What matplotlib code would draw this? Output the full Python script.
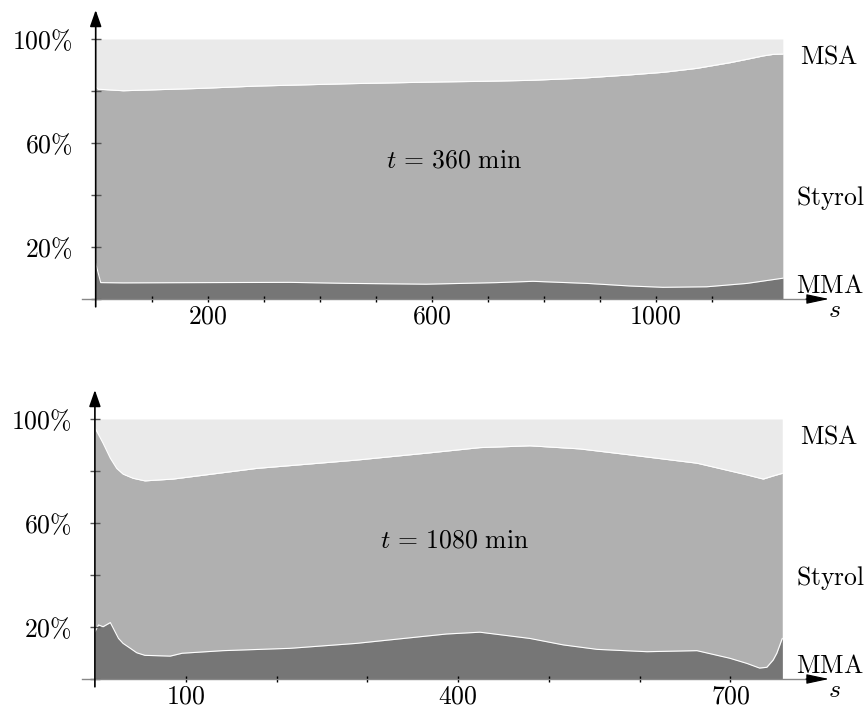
import matplotlib
matplotlib.use('Agg')
import matplotlib.pyplot as plt

plt.rcParams['mathtext.fontset'] = 'cm'
plt.rcParams['font.family'] = 'serif'

# t = 360 min: boundary MMA/Styrol and Styrol/MSA (cumulative %)
s360_top = [0, 4, 49, 186, 287, 450, 615, 686, 776, 865, 954, 1014, 1073,
            1133, 1163, 1192, 1210, 1227]
top360 = [81.6, 80.7, 80.1, 81.0, 81.9, 82.8, 83.5, 83.7, 84.1, 84.9, 86.2,
          87.2, 88.7, 90.9, 92.2, 93.5, 94.1, 94.2]
s360_mma = [0, 9, 49, 186, 347, 454, 590, 716, 781, 877, 954, 1013, 1091,
            1163, 1227]
mma360 = [13.7, 6.3, 6.2, 6.3, 6.4, 6.0, 5.7, 6.3, 6.8, 6.0, 5.0, 4.5, 4.7,
          6.0, 8.0]

# t = 1080 min
s1080_top = [0, 9, 17, 24, 31, 42, 55, 68, 86, 178, 288, 369, 424, 479, 534,
             589, 663, 718, 736, 747, 757]
top1080 = [96.6, 90.7, 84.9, 81.0, 78.8, 77.2, 76.2, 76.5, 76.9, 81.0, 84.2,
           87.0, 89.0, 89.7, 88.5, 86.2, 83.0, 78.5, 76.9, 78.1, 79.1]
s1080_mma = [0, 4, 9, 17, 26, 31, 39, 46, 55, 83, 96, 141, 215, 288, 387,
             424, 479, 516, 553, 608, 663, 699, 718, 732, 740, 747, 751, 757]
mma1080 = [18.2, 20.8, 20.1, 21.7, 15.6, 13.7, 11.8, 10.1, 9.1, 8.8, 9.9,
           10.9, 11.8, 13.7, 17.3, 18.0, 15.6, 13.1, 11.4, 10.5, 10.9, 8.0,
           6.0, 4.2, 4.5, 7.3, 9.9, 15.6]

yticks = [0, 20, 40, 60, 80, 100]
ylabels = ['', r'$20\%$', '', r'$60\%$', '', r'$100\%$']

panels = [
    dict(s_top=s360_top, top=top360, s_mma=s360_mma, mma=mma360,
         title=r'$t\,=\,360\ \mathrm{min}$',
         xticks=list(range(100, 1200, 100)), xlabeled=[200, 600, 1000],
         px0=95.7, pxunit=0.56, ybase=299),
    dict(s_top=s1080_top, top=top1080, s_mma=s1080_mma, mma=mma1080,
         title=r'$t\,=\,1080\ \mathrm{min}$',
         xticks=list(range(100, 800, 100)), xlabeled=[100, 400, 700],
         px0=94.9, pxunit=0.908, ybase=679),
]

W, H = 865, 705
fig = plt.figure(figsize=(W / 100, H / 100), dpi=100)

c_msa, c_sty, c_mma = '#eaeaea', '#b0b0b0', '#767676'
ypx = 2.6  # px per percent
ytop = 112

for p in panels:
    px0, pu, yb = p['px0'], p['pxunit'], p['ybase']
    left_px, right_px = 80, 850
    ax = fig.add_axes([left_px / W, (H - yb) / H,
                       (right_px - left_px) / W, ytop * ypx / H])
    s_to = lambda px: (px - px0) / pu
    ax.set_xlim(s_to(left_px), s_to(right_px))
    ax.set_ylim(0, ytop)

    ax.fill_between(p['s_top'], 0, p['top'], color=c_sty, lw=0, zorder=1)
    ax.fill_between(p['s_top'], p['top'], 100, color=c_msa, lw=0, zorder=1)
    ax.fill_between(p['s_mma'], 0, p['mma'], color=c_mma, lw=0, zorder=1.1)
    ax.plot(p['s_top'], p['top'], color='white', lw=0.8, zorder=1.2)
    ax.plot(p['s_mma'], p['mma'], color='white', lw=0.8, zorder=1.2)

    for sp in ax.spines.values():
        sp.set_color('none')
    ax.spines['left'].set_position(('data', 0))
    ax.spines['bottom'].set_position(('data', 0))

    # axes with arrows
    ax.plot([s_to(82), s_to(808)], [0, 0], color='#888888', lw=1.0,
            clip_on=False, zorder=3)
    ax.annotate('', xy=(s_to(829), 0), xytext=(s_to(806), 0),
                arrowprops=dict(arrowstyle='-|>,head_length=1.4,head_width=0.3',
                                color='black', lw=0.8, shrinkA=0, shrinkB=0),
                annotation_clip=False)
    ax.annotate('', xy=(0, 289 / ypx), xytext=(0, -3),
                arrowprops=dict(arrowstyle='-|>,head_length=1.0,head_width=0.35',
                                color='black', lw=1.2, shrinkA=0, shrinkB=0),
                annotation_clip=False)

    ax.set_xticks(p['xticks'])
    ax.set_xticklabels([rf'${t}$' if t in p['xlabeled'] else ''
                        for t in p['xticks']])
    ax.set_yticks(yticks)
    ax.set_yticklabels(ylabels)
    ax.tick_params(axis='x', direction='inout', length=5, width=1.0,
                   color='black', labelsize=18.5, pad=0.5)
    ax.tick_params(axis='y', direction='inout', length=7, width=1.0,
                   color='#555555', labelsize=18.5, pad=13)

    ax.text(s_to(454), 53.5, p['title'], fontsize=18.5, ha='center',
            va='center')
    ax.text(s_to(800), 90.4, r'$\mathrm{MSA}$', fontsize=18.5,
            va='baseline', ha='left')
    ax.text(s_to(796), 36.2, r'$\mathrm{Styrol}$', fontsize=18.5,
            va='baseline', ha='left')
    ax.text(s_to(796), 2.4, r'$\mathrm{MMA}$', fontsize=18.5,
            va='baseline', ha='left')
    ax.text(s_to(834), -4.2, r'$s$', fontsize=18.5, ha='center',
            va='center')

fig.savefig('out.png', dpi=100)
